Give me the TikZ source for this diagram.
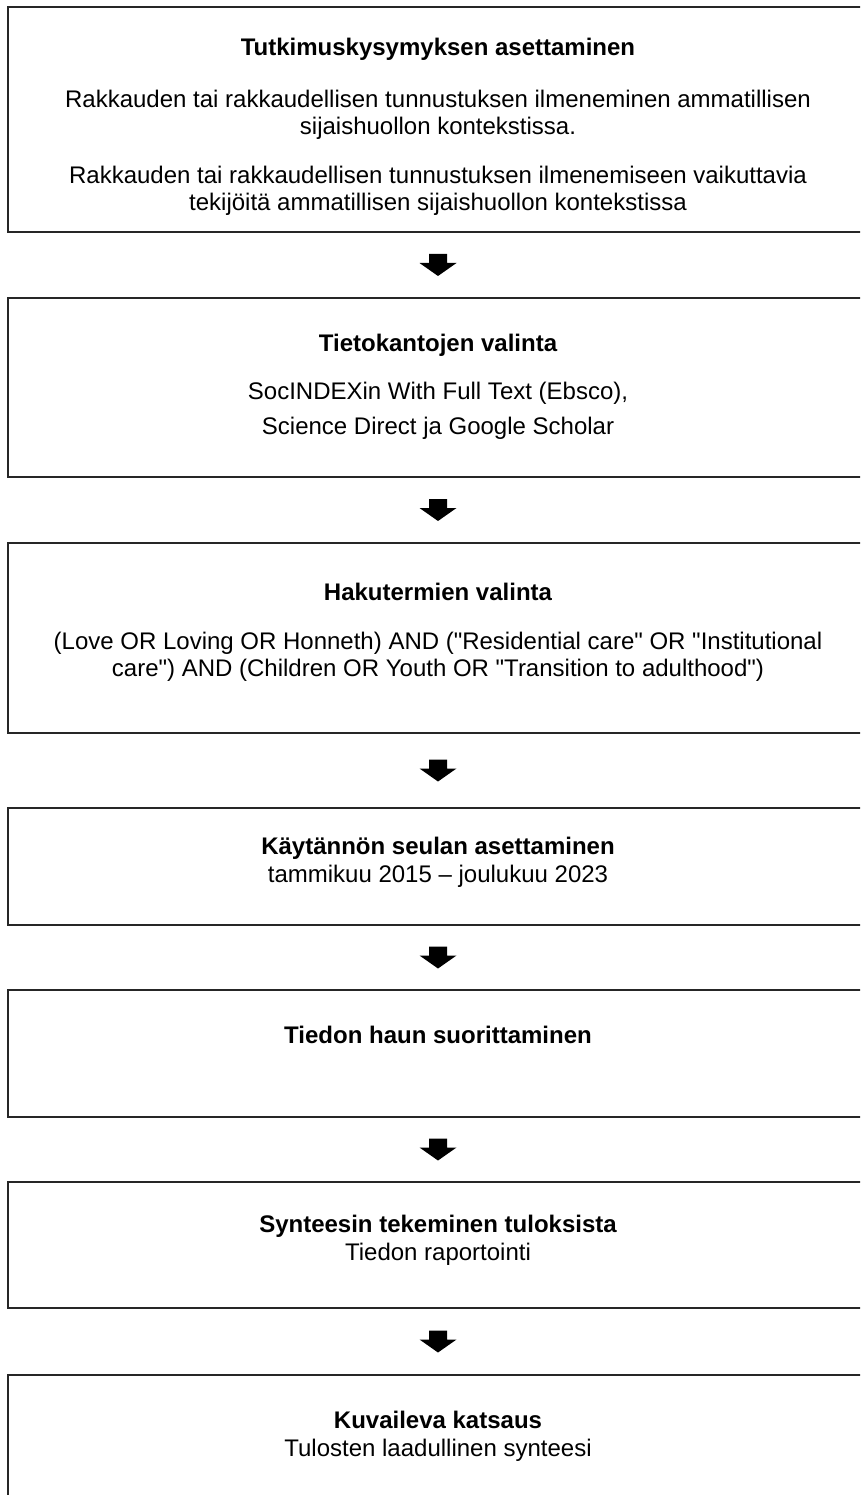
\documentclass[tikz,border=0pt]{standalone}
\usepackage{fontspec}
\setmainfont{Liberation Sans}[Ligatures=TeXOff]
\usetikzlibrary{calc}
\begin{document}
\begin{tikzpicture}[x=1pt,y=-1pt,
  stage/.style={draw=black!85, line width=1.3pt, rectangle, minimum width=860pt, inner sep=0pt, outer sep=0pt, anchor=north},
  ttl/.style={anchor=base, font=\fontsize{24}{27.6}\selectfont\bfseries, inner sep=0pt},
  txt/.style={anchor=base, font=\fontsize{24}{27.6}\selectfont, inner sep=0pt},
  blockarrow/.style={fill=black}]
\useasboundingbox (0,0) rectangle (860,1495);
\clip (0,0) rectangle (860,1495);
\fill[white] (0,0) rectangle (860,1495);
% boxes
\node[stage, minimum height=225pt] (b1) at (438,7) {};
\node[stage, minimum height=179pt] (b2) at (438,298) {};
\node[stage, minimum height=190pt] (b3) at (438,543) {};
\node[stage, minimum height=117pt] (b4) at (438,808) {};
\node[stage, minimum height=127pt] (b5) at (438,990) {};
\node[stage, minimum height=126pt] (b6) at (438,1182) {};
\node[stage, minimum height=200pt] (b7) at (438,1375) {};
% texts
\node[ttl] (t1) at (438,55.5) {Tutkimuskysymyksen asettaminen};
\node[txt] (t1a) at (438,107.5) {Rakkauden tai rakkaudellisen tunnustuksen ilmeneminen ammatillisen};
\node[txt] (t1b) at (438,135) {sijaishuollon kontekstissa.};
\node[txt] (t1c) at (438,183.5) {Rakkauden tai rakkaudellisen tunnustuksen ilmenemiseen vaikuttavia};
\node[txt] (t1d) at (438,211) {tekijöitä ammatillisen sijaishuollon kontekstissa};
\node[ttl] (t2) at (438,351.5) {Tietokantojen valinta};
\node[txt] (t2a) at (438,399.5) {SocINDEXin With Full Text (Ebsco),};
\node[txt] (t2b) at (438,434.5) {Science Direct ja Google Scholar};
\node[ttl] (t3) at (438,600.5) {Hakutermien valinta};
\node[txt] (t3a) at (438,649.5) {(Love OR Loving OR Honneth) AND ("Residential care" OR "Institutional};
\node[txt] (t3b) at (438,676.5) {care") AND (Children OR Youth OR "Transition to adulthood")};
\node[ttl] (t4) at (438,854.5) {Käytännön seulan asettaminen};
\node[txt] (t4a) at (438,882.5) {tammikuu 2015 – joulukuu 2023};
\node[ttl] (t5) at (438,1043.5) {Tiedon haun suorittaminen};
\node[ttl] (t6) at (438,1232.5) {Synteesin tekeminen tuloksista};
\node[txt] (t6a) at (438,1260.5) {Tiedon raportointi};
\node[ttl] (t7) at (438,1428.5) {Kuvaileva katsaus};
\node[txt] (t7a) at (438,1456.5) {Tulosten laadullinen synteesi};
% block arrows between boxes
\foreach \a/\b in {b1/b2,b2/b3,b3/b4,b4/b5,b5/b6,b6/b7}{
  \coordinate (m-\a) at ($(\a.south)!0.5!(\b.north)$);
  \fill[blockarrow, shift={(m-\a)}] (-9,-11) -- (9,-11) -- (9,-2) -- (18.5,-2) -- (0,11) -- (-18.5,-2) -- (-9,-2) -- cycle;
}
\end{tikzpicture}
\end{document}
